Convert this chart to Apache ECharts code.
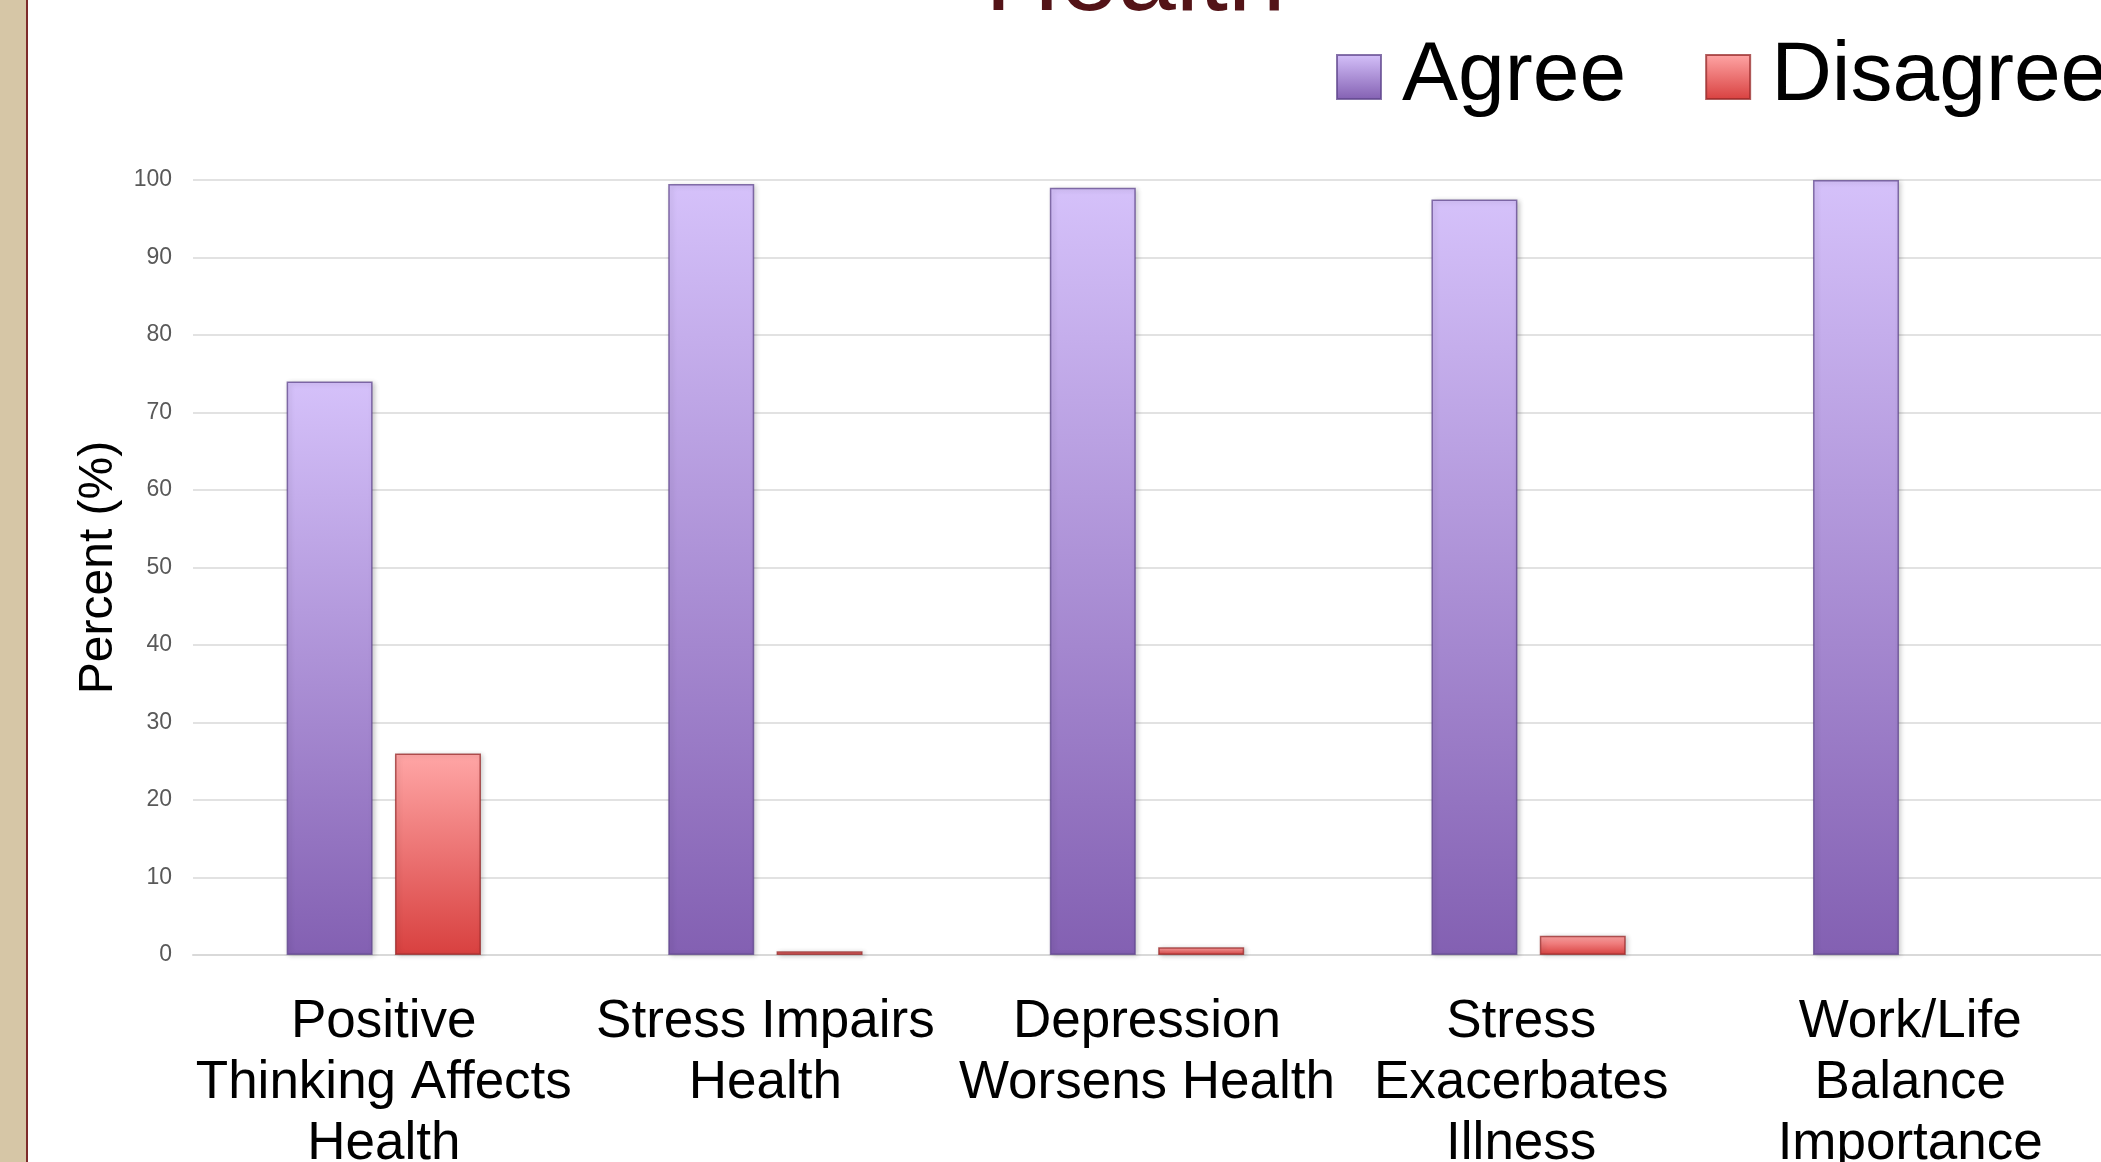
<!DOCTYPE html>
<html>
<head>
<meta charset="utf-8">
<title>Agree / Disagree by statement</title>
<script src="https://cdn.jsdelivr.net/npm/echarts@6/dist/echarts.min.js"></script>
<style>
  html, body { margin: 0; padding: 0; background: #ffffff; }
  #chart { width: 2101px; height: 1162px; }
</style>
</head>
<body>
<div id="chart"></div>
<script>
// Statements surveyed
const categories = [
  'Positive\nThinking Affects\nHealth',
  'Stress Impairs\nHealth',
  'Depression\nWorsens Health',
  'Stress \nExacerbates \nIllness ',
  'Work/Life\nBalance\nImportance'
];

// Percent of respondents
const agreeValues = [74, 99.5, 99, 97.5, 100];
const disagreeValues = [26, 0.5, 1, 2.5, 0];

// Y axis scale
const yMin = 0;
const yMax = 100;
const yStep = 10;

const FONT = "'Liberation Sans', Arial, Helvetica, sans-serif";

function vGrad(top, bottom) {
  return new echarts.graphic.LinearGradient(0, 0, 0, 1, [
    { offset: 0, color: top },
    { offset: 1, color: bottom }
  ]);
}

// zero-height bars get no outline so nothing is drawn for them
function barData(values) {
  return values.map(v => v === 0
    ? { value: v, itemStyle: { borderWidth: 0, shadowBlur: 0, opacity: 0 } }
    : v);
}

const chart = echarts.init(document.getElementById('chart'), null, { renderer: 'canvas' });

chart.setOption({
  backgroundColor: '#ffffff',
  animation: false,
  textStyle: { fontFamily: FONT },
  graphic: [
    // textured side strip and rule on the left edge
    { type: 'rect', left: 0, top: 0, shape: { x: 0, y: 0, width: 26, height: 1162 },
      style: { fill: '#d6c6a6' }, z: 0 },
    { type: 'rect', left: 26, top: 0, shape: { x: 0, y: 0, width: 2, height: 1162 },
      style: { fill: '#7d2a2a' }, z: 0 },
    // last line of the slide heading
    { type: 'text', left: 985, top: -71, z: 10,
      style: { text: 'Health', font: '104px ' + FONT, fill: '#531317' } }
  ],
  legend: {
    data: ['Agree', 'Disagree'],
    orient: 'horizontal',
    left: 1336,
    top: 35,
    width: 1400,
    padding: 0,
    itemWidth: 44,
    itemHeight: 44,
    itemGap: 79,
    icon: 'rect',
    textStyle: { fontSize: 84, color: '#000000', fontFamily: FONT, padding: [0, 0, 0, 16] }
  },
  grid: { left: 193, right: 0, top: 180, bottom: 207, containLabel: false, outerBoundsMode: 'none' },
  xAxis: {
    type: 'category',
    data: categories,
    axisLine: { show: true, lineStyle: { color: '#d9d9d9', width: 2 } },
    axisTick: { show: false },
    axisLabel: {
      interval: 0,
      margin: 37,
      fontSize: 53,
      lineHeight: 61,
      color: '#000000',
      fontFamily: FONT,
      align: 'center'
    }
  },
  yAxis: {
    type: 'value',
    min: yMin,
    max: yMax,
    interval: yStep,
    name: 'Percent (%)',
    nameLocation: 'middle',
    nameRotate: 90,
    nameGap: 68,
    nameTextStyle: { fontSize: 48, color: '#000000', fontFamily: FONT },
    axisLine: { show: false },
    axisTick: { show: false },
    axisLabel: { fontSize: 23, color: '#595959', margin: 21, fontFamily: FONT },
    splitLine: { lineStyle: { color: '#d9d9d9', width: 1.5 } }
  },
  series: [
    {
      name: 'Agree',
      type: 'bar',
      data: barData(agreeValues),
      barWidth: 86,
      barGap: '26%',
      itemStyle: {
        color: vGrad('#d5c1fa', '#8360b2'),
        borderColor: 'rgba(95,70,140,0.75)',
        borderWidth: 1.5,
        shadowColor: 'rgba(0,0,0,0.22)',
        shadowBlur: 5,
        shadowOffsetX: 2,
        shadowOffsetY: 1
      }
    },
    {
      name: 'Disagree',
      type: 'bar',
      data: barData(disagreeValues),
      barWidth: 86,
      itemStyle: {
        color: vGrad('#ffa6a6', '#d8403f'),
        borderColor: 'rgba(150,40,40,0.75)',
        borderWidth: 1.5,
        shadowColor: 'rgba(0,0,0,0.22)',
        shadowBlur: 5,
        shadowOffsetX: 2,
        shadowOffsetY: 1
      }
    }
  ]
});
</script>
</body>
</html>
